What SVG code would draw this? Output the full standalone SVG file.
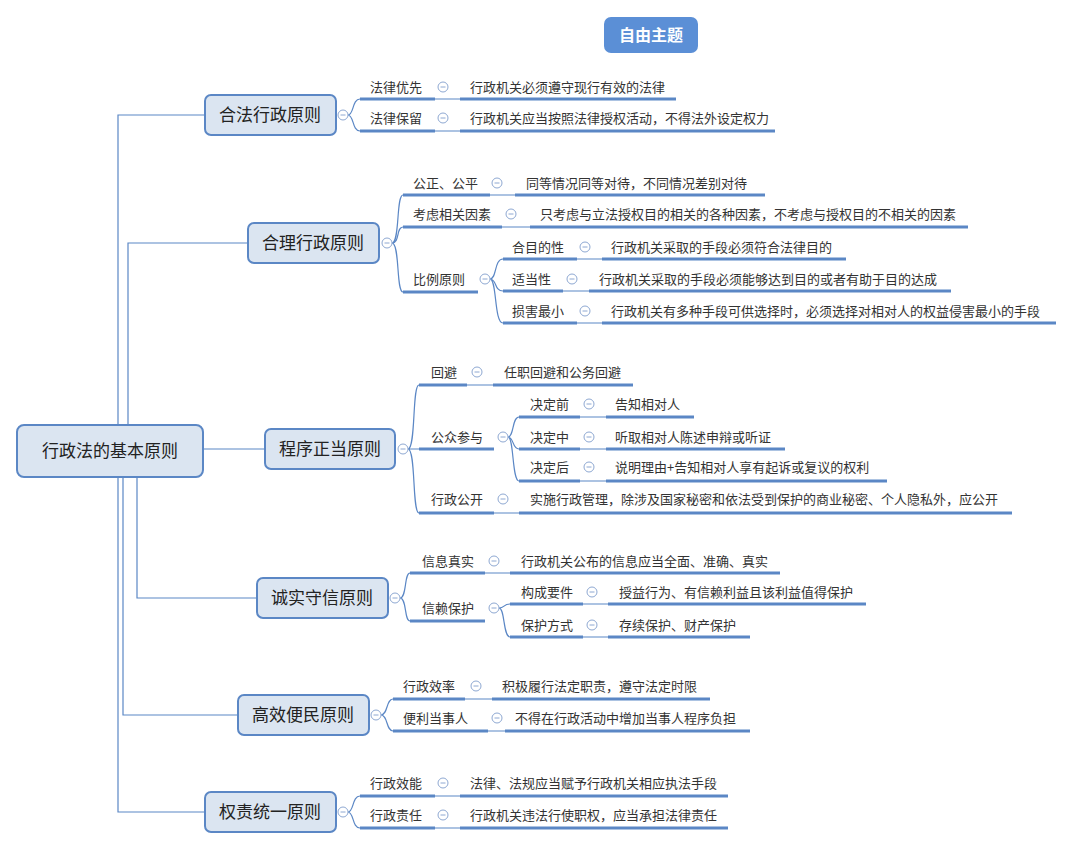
<svg xmlns="http://www.w3.org/2000/svg" width="1070" height="849" viewBox="0 0 1070 849">
<defs>
<g id="ic"><circle r="5" fill="#fff" stroke="#8ea8d2" stroke-width="1"/><line x1="-2.5" y1="0" x2="2.5" y2="0" stroke="#8ea8d2" stroke-width="1"/></g>
</defs>
<style>
text{font-family:"Microsoft YaHei","Noto Sans CJK SC",sans-serif;fill:#333;font-size:13px}
.n rect{fill:#dbe5f1;stroke:#5b87c5;stroke-width:2}
.n text{font-size:17px;text-anchor:middle;fill:#222}
.t{stroke:#5b87c5;stroke-width:1.2;fill:none}
.u{stroke:#5b87c5;stroke-width:3}
</style>
<rect width="1070" height="849" fill="#fff"/>
<g id="connectors">
<path class="t" d="M118,425 V115 H205 M128,425 V243 H248 M203,449 H265 M137,477 V598 H257 M123,477 V715 H238 M118,477 V812 H205"/>
<!-- 合法 -->
<path class="t" d="M348,115 C354,115 352,99 360,99 M348,115 C354,115 352,131 360,131 M435,99 H460 M435,131 H460"/>
<path class="u" d="M360,99 H435 M460,99 H676 M360,131 H435 M460,131 H775"/>
<!-- 合理 -->
<path class="t" d="M392,243 C400,243 396,195 403,195 M392,243 C400,243 396,227 403,227 M392,243 C400,243 396,292 403,292 M490,195 H515 M502,227 H530 M490,279 C497,279 494,259 503,259 M490,279 C497,279 494,291 503,291 M490,279 C497,279 494,323 503,323 M577,259 H602 M563,291 H589 M577,323 H602"/>
<path class="u" d="M403,195 H490 M515,195 H765 M403,227 H502 M530,227 H968 M403,292 H478 M503,259 H577 M602,259 H846 M503,291 H563 M589,291 H951 M503,323 H577 M602,323 H1056"/>
<!-- 程序 -->
<path class="t" d="M408,449 C416,449 412,385 419,385 M408,449 C416,449 412,449 419,449 M408,449 C416,449 412,513 419,513 M467,385 H493 M494,513 H519 M508,437 C514,437 512,417 519,417 M508,437 C514,437 512,449 519,449 M508,437 C514,437 512,481 519,481 M580,417 H606 M580,449 H606 M580,481 H606"/>
<path class="u" d="M419,385 H467 M493,385 H633 M419,449 H494 M519,417 H580 M606,417 H694 M519,449 H580 M606,449 H785 M519,481 H580 M606,481 H887 M419,513 H494 M519,513 H1012"/>
<!-- 诚实 -->
<path class="t" d="M400,598 C407,598 404,573 410,573 M400,598 C407,598 404,621 410,621 M485,573 H510 M499,608 C505,608 503,604 510,604 M499,608 C505,608 503,637 510,637 M583,604 H608 M583,637 H608"/>
<path class="u" d="M410,573 H485 M510,573 H780 M410,621 H485 M510,604 H583 M608,604 H866 M510,637 H583 M608,637 H750"/>
<!-- 高效 -->
<path class="t" d="M381,715 C388,715 386,699 393,699 M381,715 C388,715 386,731 393,731 M465,699 H492 M488,731 H505"/>
<path class="u" d="M393,699 H465 M492,699 H710 M393,731 H488 M505,731 H750"/>
<!-- 权责 -->
<path class="t" d="M348,812 C354,812 352,796 360,796 M348,812 C354,812 352,828 360,828 M435,796 H460 M435,828 H460"/>
<path class="u" d="M360,796 H435 M460,796 H728 M360,828 H435 M460,828 H728"/>
</g>
<g id="topic"><rect x="604" y="17" width="94" height="36" rx="7" fill="#5b8fd6"/><text x="651" y="41" style="fill:#fff;font-size:16px;font-weight:bold;text-anchor:middle">自由主题</text></g>
<g id="root" class="n"><rect x="17" y="425" width="186" height="52" rx="7"/><text x="110" y="457">行政法的基本原则</text></g>
<g id="n1" class="n"><rect x="205" y="95" width="131" height="40" rx="6"/><text x="270" y="121">合法行政原则</text></g>
<g id="n2" class="n"><rect x="248" y="223" width="131" height="40" rx="6"/><text x="313" y="249">合理行政原则</text></g>
<g id="n3" class="n"><rect x="265" y="429" width="130" height="40" rx="6"/><text x="330" y="455">程序正当原则</text></g>
<g id="n4" class="n"><rect x="257" y="578" width="131" height="40" rx="6"/><text x="322" y="604">诚实守信原则</text></g>
<g id="n5" class="n"><rect x="238" y="695" width="131" height="40" rx="6"/><text x="303" y="721">高效便民原则</text></g>
<g id="n6" class="n"><rect x="205" y="792" width="131" height="40" rx="6"/><text x="270" y="818">权责统一原则</text></g>
<g id="icons">
<use href="#ic" x="343" y="115"/><use href="#ic" x="443" y="87"/><use href="#ic" x="443" y="118"/>
<use href="#ic" x="387" y="243"/><use href="#ic" x="497" y="183"/><use href="#ic" x="511" y="214"/><use href="#ic" x="485" y="279"/><use href="#ic" x="585" y="247"/><use href="#ic" x="572" y="279"/><use href="#ic" x="585" y="311"/>
<use href="#ic" x="403" y="449"/><use href="#ic" x="477" y="372"/><use href="#ic" x="503" y="437"/><use href="#ic" x="589" y="404"/><use href="#ic" x="589" y="437"/><use href="#ic" x="589" y="467"/><use href="#ic" x="503" y="499"/>
<use href="#ic" x="395" y="598"/><use href="#ic" x="494" y="561"/><use href="#ic" x="494" y="608"/><use href="#ic" x="592" y="592"/><use href="#ic" x="592" y="625"/>
<use href="#ic" x="376" y="715"/><use href="#ic" x="476" y="686"/><use href="#ic" x="497" y="718"/>
<use href="#ic" x="343" y="812"/><use href="#ic" x="443" y="783"/><use href="#ic" x="443" y="815"/>
</g>
<g id="labels">
<text x="370" y="92">法律优先</text><text x="470" y="92">行政机关必须遵守现行有效的法律</text>
<text x="370" y="123">法律保留</text><text x="470" y="123">行政机关应当按照法律授权活动，不得法外设定权力</text>
<text x="413" y="188">公正、公平</text><text x="526" y="188">同等情况同等对待，不同情况差别对待</text>
<text x="413" y="219">考虑相关因素</text><text x="540" y="219">只考虑与立法授权目的相关的各种因素，不考虑与授权目的不相关的因素</text>
<text x="413" y="284">比例原则</text>
<text x="512" y="252">合目的性</text><text x="611" y="252">行政机关采取的手段必须符合法律目的</text>
<text x="512" y="284">适当性</text><text x="599" y="284">行政机关采取的手段必须能够达到目的或者有助于目的达成</text>
<text x="512" y="316">损害最小</text><text x="611" y="316">行政机关有多种手段可供选择时，必须选择对相对人的权益侵害最小的手段</text>
<text x="431" y="377">回避</text><text x="504" y="377">任职回避和公务回避</text>
<text x="431" y="442">公众参与</text>
<text x="530" y="409">决定前</text><text x="615" y="409">告知相对人</text>
<text x="530" y="442">决定中</text><text x="615" y="442">听取相对人陈述申辩或听证</text>
<text x="530" y="472">决定后</text><text x="615" y="472">说明理由+告知相对人享有起诉或复议的权利</text>
<text x="431" y="504">行政公开</text><text x="530" y="504">实施行政管理，除涉及国家秘密和依法受到保护的商业秘密、个人隐私外，应公开</text>
<text x="422" y="566">信息真实</text><text x="521" y="566">行政机关公布的信息应当全面、准确、真实</text>
<text x="422" y="613">信赖保护</text>
<text x="521" y="597">构成要件</text><text x="619" y="597">授益行为、有信赖利益且该利益值得保护</text>
<text x="521" y="630">保护方式</text><text x="619" y="630">存续保护、财产保护</text>
<text x="403" y="691">行政效率</text><text x="502" y="691">积极履行法定职责，遵守法定时限</text>
<text x="403" y="723">便利当事人</text><text x="515" y="723">不得在行政活动中增加当事人程序负担</text>
<text x="370" y="788">行政效能</text><text x="470" y="788">法律、法规应当赋予行政机关相应执法手段</text>
<text x="370" y="820">行政责任</text><text x="470" y="820">行政机关违法行使职权，应当承担法律责任</text>
</g>
</svg>
